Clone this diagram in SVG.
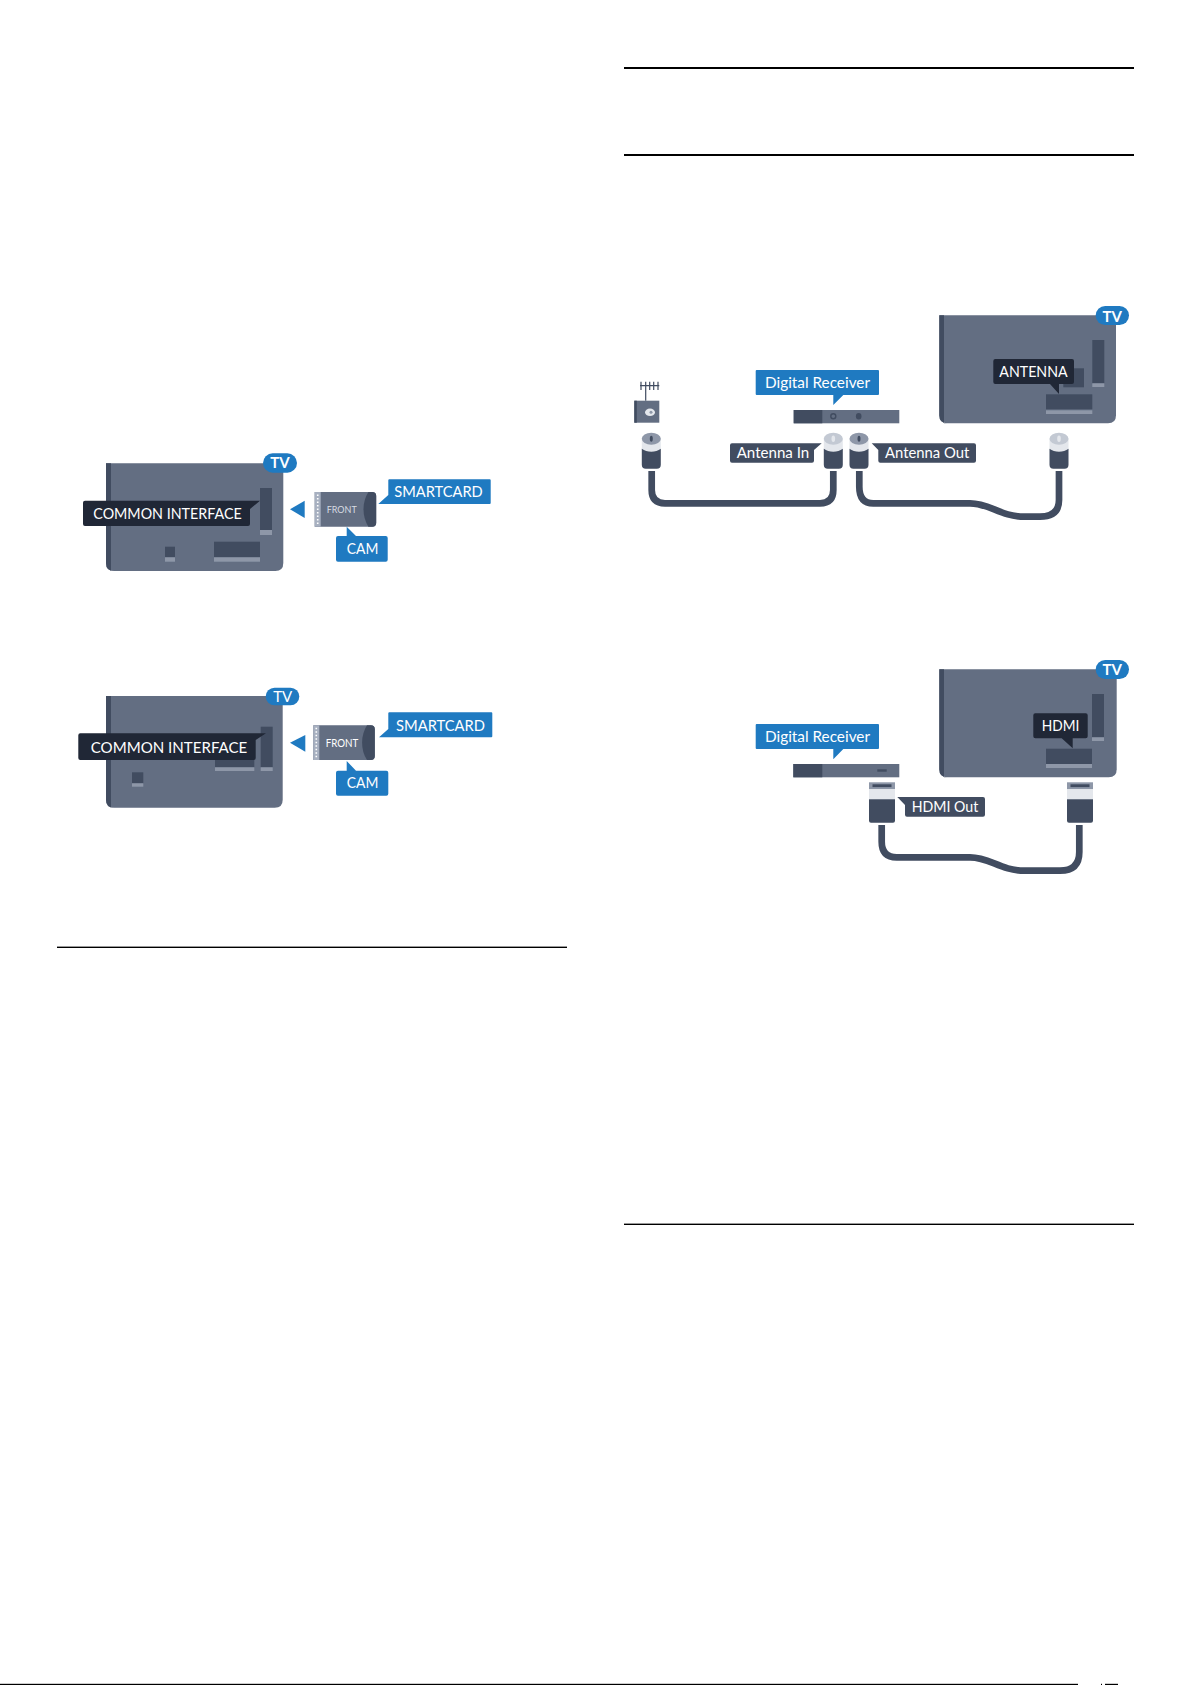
<svg xmlns="http://www.w3.org/2000/svg" width="1192" height="1685" viewBox="0 0 1192 1685">
<style>
.tv{fill:#636e82}.d{fill:#414c60}.l{fill:#8e97a8}.xl{fill:#e4e7ec}.b{fill:#1f7ac1}.k{fill:#202736}
.hr{fill:#000}
text{font-family:"Lato","Open Sans","Liberation Sans",sans-serif;fill:#fff;font-size:15px}
.front{font-size:10px;fill:#d8dce3}
.cable{fill:none;stroke:#414c60;stroke-width:6.7}
</style>
<defs>
<path id="plugbody" d="M-9.5 10V26q0 4 4 4H5.5q4 0 4-4V10q-4 3-9.500 3T-9.500 10Z" class="d"/>
<g id="coax">
<path d="M-9.500 0V11q0 3.500 9.500 3.500T9.500 11V0Z" class="xl"/>
<use href="#plugbody"/>
</g>
<g id="hdmi">
<rect x="0" y="0" width="26" height="7" class="l"/>
<rect x="3.500" y="2" width="19" height="2.800" class="d"/>
<rect x="0" y="7" width="26" height="10" class="xl"/>
<path d="M0 17H26V38.500q0 2-2 2H2q-2 0-2-2Z" class="d"/>
</g>
<g id="card">
<path d="M0 0H57.500q4 0 4 4V30.700q0 4-4 4H0Z" class="tv"/>
<rect x="0" y="0" width="6" height="34.700" fill="#a7b0c0"/>
<path d="M53.700 0H57.500q4 0 4 4V30.700q0 4-4 4H53.700Q48.800 27 48.800 17.350T53.700 0Z" class="d"/>
<path d="M3 2.500V32" stroke="#fff" stroke-width="1.600" stroke-dasharray="1.500 2" fill="none"/>
</g>
</defs>
<g id="rules">
<rect class="hr" x="624" y="67" width="510" height="2"/>
<rect class="hr" x="624" y="154" width="510" height="2"/>
<rect class="hr" x="57" y="946.600" width="510" height="1.400"/>
<rect class="hr" x="624" y="1223.600" width="510" height="1.400"/>
<rect class="hr" x="0" y="1683.800" width="1078" height="1.200"/>
<rect class="hr" x="1101" y="1683.800" width="1" height="1.200"/>
<rect class="hr" x="1105" y="1683.800" width="13" height="1.200"/>
</g>

<g id="tv-1">
<path class="tv" d="M106 463.300H283.300V563q0 8-8 8H114q-8 0-8-8Z"/>
<path class="d" d="M106 463.300H111V571H114q-8 0-8-8Z"/>
<rect class="d" x="260" y="488" width="12" height="42"/><rect class="l" x="260" y="530" width="12" height="5"/>
<rect class="d" x="165" y="546.700" width="10" height="10.600"/><rect class="l" x="165" y="557.300" width="10" height="4.400"/>
<rect class="d" x="214" y="541.700" width="46" height="15.600"/><rect class="l" x="214" y="557.300" width="46" height="4.400"/>
</g>
<g id="label-common-1">
<path class="k" d="M85 500.700H260L250 509V524q0 2-2 2H85q-2 0-2-2V502.700q0-2 2-2Z"/>
<text x="93.300" y="519" textLength="148.400" lengthAdjust="spacingAndGlyphs">COMMON INTERFACE</text>
</g>
<g id="badge-1"><rect class="b" x="263" y="453.300" width="34" height="19.400" rx="9.700"/><text x="280" y="468" text-anchor="middle" font-weight="700">TV</text></g>
<path id="arrow-1" class="b" d="M290 509.300L304.700 500.700V518Z"/>
<g id="card-1"><use href="#card" x="314.700" y="492"/><text class="front" x="326.700" y="513" textLength="30" lengthAdjust="spacingAndGlyphs">FRONT</text></g>
<g id="label-smartcard-1">
<path class="b" d="M389.300 479.300H489.700q1 0 1 1V503q0 1-1 1H378.300L388.300 495V480.300q0-1 1-1Z"/>
<text x="394.300" y="497" textLength="88.400" lengthAdjust="spacingAndGlyphs">SMARTCARD</text>
</g>
<g id="label-cam-1">
<path class="b" d="M346.700 526.700L356 536H385.700q2 0 2 2V559.700q0 2-2 2H338q-2 0-2-2V538q0-2 2-2H346.700Z"/>
<text x="346.700" y="554" textLength="31.600" lengthAdjust="spacingAndGlyphs">CAM</text>
</g>

<g id="tv-2">
<path class="tv" d="M106 696H282.700V799.700q0 8-8 8H114q-8 0-8-8Z"/>
<path class="d" d="M106 696H111V807.700H114q-8 0-8-8Z"/>
<rect class="d" x="260.700" y="726.700" width="12" height="40.600"/><rect class="l" x="260.700" y="767.300" width="12" height="3.700"/>
<rect class="d" x="132" y="772.300" width="11.300" height="11"/><rect class="l" x="132" y="783.300" width="11.300" height="3.400"/>
<rect class="d" x="215" y="755" width="39.300" height="12.300"/><rect class="l" x="215" y="767.300" width="39.300" height="3.700"/>
</g>
<g id="label-common-2">
<path class="k" d="M80.300 733.300H266L255.700 740V758q0 2-2 2H80.300q-2 0-2-2V735.300q0-2 2-2Z"/>
<text x="90.700" y="752.700" textLength="156.600" lengthAdjust="spacingAndGlyphs" style="font-size:16px">COMMON INTERFACE</text>
</g>
<g id="badge-2"><rect class="b" x="265.700" y="687.700" width="33.600" height="17.600" rx="8.800"/><text x="282.700" y="701.700" text-anchor="middle">TV</text></g>
<path id="arrow-2" class="b" d="M290 742.700L305.300 735V751.700Z"/>
<g id="card-2"><use href="#card" x="313.300" y="725.300"/><text class="front" x="325.700" y="746.700" textLength="32.600" lengthAdjust="spacingAndGlyphs" style="font-size:11px;fill:#fff">FRONT</text></g>
<g id="label-smartcard-2">
<path class="b" d="M389.300 712.300H491.300q1 0 1 1V736.300q0 1-1 1H379L388.300 729V713.300q0-1 1-1Z"/>
<text x="396" y="730.700" textLength="89" lengthAdjust="spacingAndGlyphs">SMARTCARD</text>
</g>
<g id="label-cam-2">
<path class="b" d="M346.700 761L356 770.700H386.300q2 0 2 2V793.700q0 2-2 2H338q-2 0-2-2V772.700q0-2 2-2H346.700Z"/>
<text x="346.700" y="788" textLength="31.600" lengthAdjust="spacingAndGlyphs">CAM</text>
</g>

<g id="tv-3">
<path class="tv" d="M939.300 315.300H1116V415.300q0 8-8 8H947.300q-8 0-8-8Z"/>
<path class="d" d="M939.300 315.300H944V423.300H947.300q-8 0-8-8Z"/>
<rect class="d" x="1092.300" y="340" width="12" height="43.300"/><rect class="l" x="1092.300" y="383.300" width="12" height="3.700"/>
<rect class="d" x="1063.300" y="368.300" width="20.700" height="19"/>
<rect class="d" x="1046" y="394.300" width="46.300" height="15"/><rect class="l" x="1046" y="410.300" width="46.300" height="3.700"/>
</g>
<g id="label-antenna">
<path class="k" d="M995.300 359H1072q2 0 2 2V382q0 2-2 2H1059V394L1050 384H995.300q-2 0-2-2V361q0-2 2-2Z"/>
<text x="999.300" y="377.300" textLength="68.400" lengthAdjust="spacingAndGlyphs">ANTENNA</text>
</g>
<g id="badge-3"><rect class="b" x="1095.700" y="306" width="33.300" height="19" rx="9.500"/><text x="1112.300" y="321.500" text-anchor="middle" font-weight="700">TV</text></g>
<g id="receiver-1">
<rect class="tv" x="793.700" y="410" width="105.600" height="13.300"/>
<rect class="d" x="793.700" y="410" width="28.600" height="13.300"/>
<circle cx="833.300" cy="416.300" r="2.500" fill="none" stroke="#414c60" stroke-width="1.400"/>
<ellipse class="d" cx="858.700" cy="416.300" rx="2.800" ry="3.200"/>
</g>
<g id="label-receiver-1">
<path class="b" d="M756.700 370H878q1 0 1 1V394q0 1-1 1H843.300L833.300 405V395H756.700q-1 0-1-1V371q0-1 1-1Z"/>
<text x="765" y="387.700" textLength="105" lengthAdjust="spacingAndGlyphs">Digital Receiver</text>
</g>
<g id="antenna-socket">
<path d="M640 385.700H659.300M641 381.700V390M645.700 381.700V400.700M649.700 381.700V390M653.700 381.700V390M658 381.700V390" stroke="#414c60" stroke-width="1.200" fill="none"/>
<rect class="tv" x="634.300" y="400.700" width="25" height="22"/>
<rect class="d" x="634.300" y="400.700" width="2.500" height="22"/>
<ellipse cx="650" cy="412.300" rx="5" ry="3.700" class="xl"/><circle cx="651" cy="412.300" r="1.500" class="l"/>
</g>
<g id="plug-1"><use href="#coax" x="651.300" y="438.700"/><ellipse class="l" cx="651.300" cy="438.700" rx="9.500" ry="6"/><ellipse class="d" cx="651.300" cy="438.700" rx="1.500" ry="3"/></g>
<g id="plug-2"><use href="#coax" x="833.300" y="438.700"/><ellipse fill="#c3c9d3" cx="833.300" cy="438.700" rx="9.500" ry="6"/><ellipse class="xl" cx="833.300" cy="438.700" rx="1.800" ry="3.200"/></g>
<g id="plug-3"><use href="#coax" x="859" y="438.700"/><ellipse class="l" cx="859" cy="438.700" rx="9.500" ry="6"/><ellipse class="d" cx="859" cy="438.700" rx="1.500" ry="3"/></g>
<g id="plug-4"><use href="#coax" x="1059" y="438.700"/><ellipse fill="#c3c9d3" cx="1059" cy="438.700" rx="9.500" ry="6"/><ellipse class="xl" cx="1059" cy="438.700" rx="1.800" ry="3.200"/></g>
<g id="label-antenna-in">
<path class="d" d="M732 443.300H821.700L814 450V460.700q0 2-2 2H732q-2 0-2-2V445.300q0-2 2-2Z"/>
<text x="736.700" y="458.300" textLength="72.600" lengthAdjust="spacingAndGlyphs">Antenna In</text>
</g>
<g id="label-antenna-out">
<path class="d" d="M871.700 443.300H974q2 0 2 2V460.700q0 2-2 2H880.300q-2 0-2-2V450Z"/>
<text x="885" y="458.300" textLength="84.300" lengthAdjust="spacingAndGlyphs">Antenna Out</text>
</g>

<g id="tv-4">
<path class="tv" d="M939.300 669.300H1116.700V769.300q0 8-8 8H947.300q-8 0-8-8Z"/>
<path class="d" d="M939.300 669.300H944V777.300H947.300q-8 0-8-8Z"/>
<rect class="d" x="1092" y="694" width="12" height="43.300"/><rect class="l" x="1092" y="737.300" width="12" height="3.700"/>
<rect class="d" x="1046" y="748.700" width="46" height="15.300"/><rect class="l" x="1046" y="764" width="46" height="4"/>
</g>
<g id="label-hdmi">
<path class="k" d="M1035.300 713.300H1085.700q2 0 2 2V736.300q0 2-2 2H1072.700V748.300L1061.700 738.300H1035.300q-2 0-2-2V715.300q0-2 2-2Z"/>
<text x="1041.700" y="731" textLength="37.600" lengthAdjust="spacingAndGlyphs">HDMI</text>
</g>
<g id="badge-4"><rect class="b" x="1095.700" y="660" width="33.300" height="19" rx="9.500"/><text x="1112.300" y="675.300" text-anchor="middle" font-weight="700">TV</text></g>
<g id="receiver-2">
<rect class="tv" x="793.300" y="764" width="106" height="13.300"/>
<rect class="d" x="793.300" y="764" width="29" height="13.300"/>
<rect class="d" x="877.300" y="769.300" width="9.400" height="2.400"/>
</g>
<g id="label-receiver-2">
<path class="b" d="M756.700 724H878q1 0 1 1V748q0 1-1 1H843.300L833.300 759.300V749H756.700q-1 0-1-1V725q0-1 1-1Z"/>
<text x="765" y="741.700" textLength="105" lengthAdjust="spacingAndGlyphs">Digital Receiver</text>
</g>
<g id="plug-hdmi-1"><use href="#hdmi" x="869" y="782.300"/></g>
<g id="plug-hdmi-2"><use href="#hdmi" x="1067" y="782.300"/></g>
<g id="label-hdmi-out">
<path class="d" d="M897.300 797H983q2 0 2 2V814.700q0 2-2 2H907q-2 0-2-2V805Z"/>
<text x="911.700" y="811.700" textLength="66.600" lengthAdjust="spacingAndGlyphs">HDMI Out</text>
</g>

<g id="connectors">
<path class="cable" d="M651.700 471V490Q651.700 503.300 665 503.300H820Q833.300 503.300 833.300 490V471"/>
<path class="cable" d="M859.300 471V486.700Q859.300 503.300 873.300 503.300H970C990 503.300 1000 516.700 1025 516.700H1040Q1059 516.700 1059 500V471"/>
<path class="cable" d="M881.700 825V841.700Q881.700 857.300 896.700 857.300H970C990 857.300 1000 870.700 1025 870.700H1060Q1079.300 870.700 1079.300 852V825"/>
</g>
</svg>
